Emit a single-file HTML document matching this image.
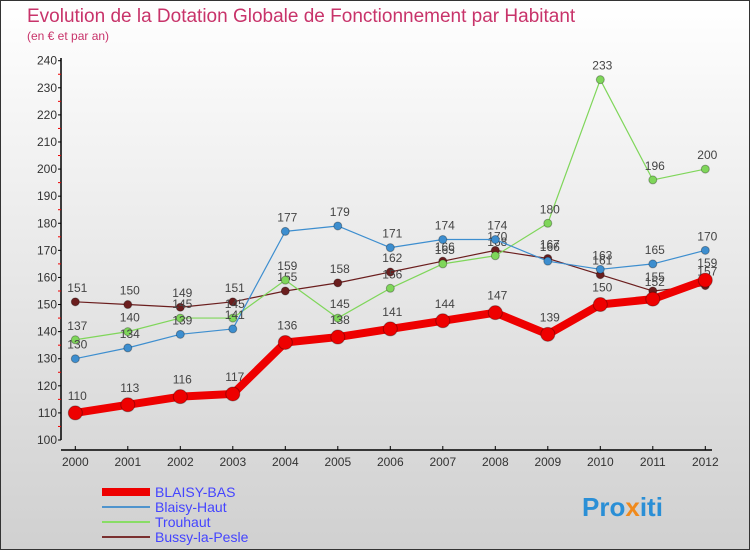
<!DOCTYPE html>
<html><head><meta charset="utf-8"><style>
body{margin:0;width:750px;height:550px;overflow:hidden;font-family:"Liberation Sans",sans-serif}
</style></head><body>
<svg id="c" width="750" height="550" xmlns="http://www.w3.org/2000/svg">
<defs><linearGradient id="bg" x1="0" y1="0" x2="0" y2="1"><stop offset="0" stop-color="#ffffff"/><stop offset="1" stop-color="#d0d0d0"/></linearGradient></defs>
<rect x="0.5" y="0.5" width="749" height="549" fill="url(#bg)" stroke="#333"/>
<text x="27" y="22" font-size="19" fill="#c8336a">Evolution de la Dotation Globale de Fonctionnement par Habitant</text>
<text x="27" y="40" font-size="12" fill="#c8336a">(en € et par an)</text>
<g id="axes"></g><g id="series"></g>
<g font-size="14">
<line x1="102" y1="492" x2="150" y2="492" stroke="#ee0000" stroke-width="8"/>
<text x="155" y="497" fill="#4444ff">BLAISY-BAS</text>
<line x1="102" y1="507" x2="150" y2="507" stroke="#4f94cd" stroke-width="2"/>
<text x="155" y="512" fill="#4444ff">Blaisy-Haut</text>
<line x1="102" y1="522" x2="150" y2="522" stroke="#88dd66" stroke-width="2"/>
<text x="155" y="527" fill="#4444ff">Trouhaut</text>
<line x1="102" y1="537" x2="150" y2="537" stroke="#7a3030" stroke-width="2"/>
<text x="155" y="542" fill="#4444ff">Bussy-la-Pesle</text>
</g>
<text x="582" y="516" font-size="26" font-weight="bold" fill="#2a8fd6">Pro<tspan fill="#f08a1c">x</tspan>iti</text>
</svg>
<script>
const years=[2000,2001,2002,2003,2004,2005,2006,2007,2008,2009,2010,2011,2012];
const yTicks=[100,110,120,130,140,150,160,170,180,190,200,210,220,230,240];
const blaisyBas=[110,113,116,117,136,138,141,144,147,139,150,152,159];
const blaisyHaut=[130,134,139,141,177,179,171,174,174,166,163,165,170];
const trouhaut=[137,140,145,145,159,145,156,165,168,180,233,196,200];
const bussy=[151,150,149,151,155,158,162,166,170,167,161,155,157];
const NS="http://www.w3.org/2000/svg";
const X=i=>75.3+i*52.5;
const Y=v=>440-(v-100)*(379.3/140);
function mk(t,a,p){const e=document.createElementNS(NS,t);for(const k in a)e.setAttribute(k,a[k]);p.appendChild(e);return e;}
const ax=document.getElementById('axes');
let e=mk('line',{x1:61,y1:58,x2:61,y2:440,stroke:'#000','stroke-width':1.5},ax);

e=mk('line',{x1:61,y1:450,x2:712,y2:450,stroke:'#000','stroke-width':1.5},ax);

yTicks.forEach((v,i)=>{
 mk('line',{x1:58,y1:Y(v),x2:61,y2:Y(v),stroke:'#000'},ax);
 if(i<yTicks.length-1)mk('line',{x1:58,y1:Y(v+5),x2:61,y2:Y(v+5),stroke:'#e00'},ax);
 const t=mk('text',{x:57,y:Y(v)+4,'font-size':12,'text-anchor':'end',fill:'#333'},ax);t.textContent=v;
 
});
years.forEach((y,i)=>{
 mk('line',{x1:X(i),y1:446,x2:X(i),y2:450,stroke:'#000'},ax);
 const t=mk('text',{x:X(i),y:466,'font-size':12,'text-anchor':'middle',fill:'#333'},ax);t.textContent=y;
 
});
const sg=document.getElementById('series');
function series(vals,color,w,r,name){
 const g=mk('g',{},sg);
 
 const l=mk('polyline',{points:vals.map((v,i)=>X(i)+','+Y(v)).join(' '),fill:'none',stroke:color,'stroke-width':w,'stroke-linejoin':'round'},g);
 
 vals.forEach((v,i)=>{
  const c=mk('circle',{cx:X(i),cy:Y(v),r:r,fill:color,stroke:'rgba(0,0,0,0.3)'},g);
  
  const t=mk('text',{x:X(i)+2,y:Y(v)-r-6,'font-size':12,'text-anchor':'middle',fill:'#444'},g);t.textContent=v;
  
 });
}
series(bussy,'#6b1e1e',1.2,4,'bussy');
series(trouhaut,'#7fd65a',1.2,4,'trouhaut');
series(blaisyHaut,'#3d8ecf',1.2,4,'blaisy-haut');
series(blaisyBas,'#ee0000',8,7,'blaisy-bas');
</script>
</body></html>
